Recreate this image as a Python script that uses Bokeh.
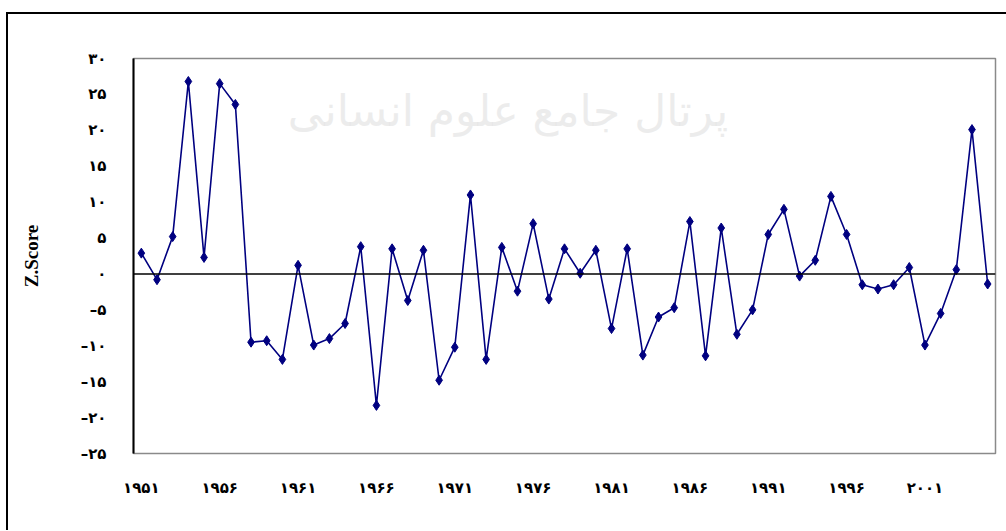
from bokeh.plotting import figure
from bokeh.models import FixedTicker, Span, Label, InlineStyleSheet
from bokeh.embed import file_html
from bokeh.resources import INLINE

# ---- data ----
years = list(range(1951, 2006))
z_score = [
    2.9, -0.8, 5.2, 26.8, 2.3, 26.5, 23.6, -9.5, -9.3, -11.9,
    1.2, -9.9, -9.0, -6.9, 3.8, -18.3, 3.5, -3.7, 3.3, -14.8,
    -10.2, 11.0, -11.9, 3.7, -2.4, 7.0, -3.5, 3.5, 0.1, 3.3,
    -7.6, 3.5, -11.3, -6.0, -4.7, 7.3, -11.4, 6.4, -8.4, -5.0,
    5.5, 9.0, -0.3, 1.9, 10.8, 5.5, -1.5, -2.1, -1.5, 0.9,
    -9.9, -5.5, 0.6, 20.1, -1.4,
]
x_tick_values = [1951, 1956, 1961, 1966, 1971, 1976, 1981, 1986, 1991, 1996, 2001]
x_tick_labels = ["۱۹۵۱", "۱۹۵۶", "۱۹۶۱", "۱۹۶۶", "۱۹۷۱", "۱۹۷۶",
                 "۱۹۸۱", "۱۹۸۶", "۱۹۹۱", "۱۹۹۶", "۲۰۰۱"]
y_tick_values = [-25, -20, -15, -10, -5, 0, 5, 10, 15, 20, 25, 30]
y_tick_labels = ["–۲۵", "–۲۰", "–۱۵", "–۱۰", "–۵", "۰",
                 "۵", "۱۰", "۱۵", "۲۰", "۲۵", "۳۰"]
y_title = "Z.Score"
watermark_main = "پرتال جامع علوم انسانی"
watermark_top = "پژوهشگاه علوم انسانی و مطالعات فرهنگی"

p = figure(
    frame_width=862, frame_height=395,
    x_range=(1950.5, 2005.5), y_range=(-25, 30),
    output_backend="svg", toolbar_location=None,
    min_border_left=133, min_border_top=58,
    min_border_right=11, min_border_bottom=77,
)
p.background_fill_color = "white"
p.border_fill_color = "white"
# outer chart-area border (only its left and top edges fall inside the crop)
p.stylesheets = [InlineStyleSheet(css="""
:host::after {
  content: "";
  position: absolute;
  z-index: 50;
  left: 6px; top: 12px;
  width: calc(100% - 6px); height: calc(100% - 12px);
  border-left: 2px solid #000; border-top: 2px solid #000;
  box-sizing: border-box;
  pointer-events: none;
}
""")]
p.outline_line_color = "#8a8a8a"
p.outline_line_width = 1.5
p.xgrid.visible = False
p.ygrid.visible = False

# watermark (faint)
p.add_layout(Label(x=1974.4, y=22.8, text=watermark_main,
                   text_font="DejaVu Sans", text_font_size="44px",
                   text_color="#e4e4e4", text_alpha=0.7,
                   text_align="center", text_baseline="middle"))
p.add_layout(Label(x=1975.5, y=37.9, text=watermark_top,
                   text_font="DejaVu Sans", text_font_size="22px",
                   text_color="#e4e4e4", text_alpha=0.7,
                   text_align="center", text_baseline="top"))

# x axis
p.xaxis.ticker = FixedTicker(ticks=x_tick_values)
p.xaxis.major_label_overrides = {v: t for v, t in zip(x_tick_values, x_tick_labels)}
p.xaxis.axis_line_color = None
p.xaxis.major_tick_line_color = None
p.xaxis.minor_tick_line_color = None
p.xaxis.major_label_standoff = 19
p.xaxis.major_label_text_font = "DejaVu Sans"
p.xaxis.major_label_text_font_style = "bold"
p.xaxis.major_label_text_font_size = "15px"
p.xaxis.major_label_text_color = "black"

# y axis
p.yaxis.ticker = FixedTicker(ticks=y_tick_values)
p.yaxis.major_label_overrides = {v: t for v, t in zip(y_tick_values, y_tick_labels)}
p.yaxis.axis_line_color = "black"
p.yaxis.axis_line_width = 2
p.yaxis.major_tick_line_color = None
p.yaxis.minor_tick_line_color = None
p.yaxis.major_label_standoff = 21
p.yaxis.major_label_text_font = "DejaVu Sans"
p.yaxis.major_label_text_font_style = "bold"
p.yaxis.major_label_text_font_size = "15px"
p.yaxis.major_label_text_color = "black"
p.yaxis.axis_label = y_title
p.yaxis.axis_label_text_font = "Liberation Serif"
p.yaxis.axis_label_text_font_style = "bold"
p.yaxis.axis_label_text_font_size = "19px"
p.yaxis.axis_label_text_color = "black"
p.yaxis.axis_label_standoff = 36

# zero line (category axis crossing)
p.add_layout(Span(location=0, dimension="width", line_color="black", line_width=1.5))

p.line(years, z_score, line_color="#000080", line_width=1.6)
p.scatter(years, z_score, marker="diamond", size=10,
          fill_color="#000080", line_color="#000080")

open("out.html", "w").write(file_html(p, INLINE))
